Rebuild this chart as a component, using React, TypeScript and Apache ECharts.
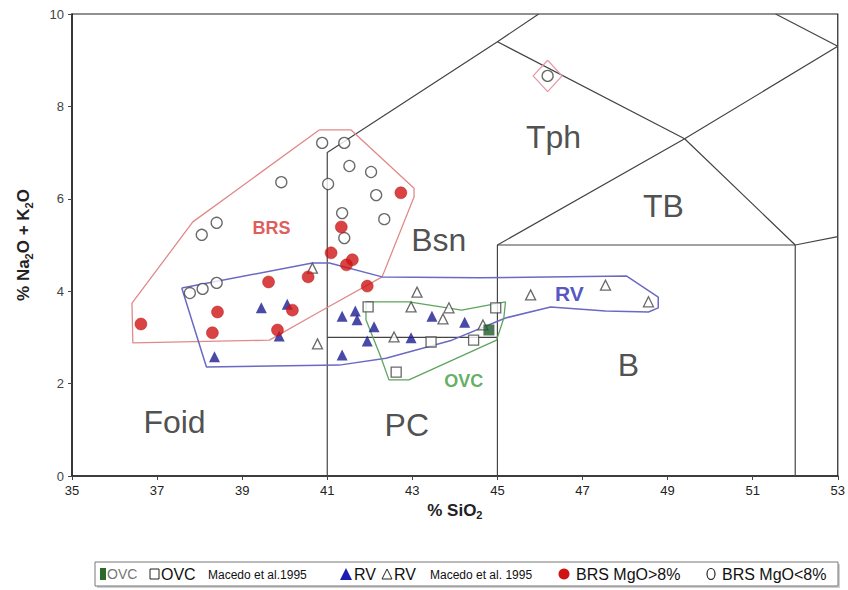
import React, { useEffect, useRef } from "react";
import * as echarts from "echarts";

// ---- axis ticks ----
const xTickValues = [35, 37, 39, 41, 43, 45, 47, 49, 51, 53];

// ---- samples: [SiO2, Na2O+K2O] ----
const ovcFilled = [[44.8, 3.16]];
const ovcMacedo = [
  [41.96, 3.66], [44.96, 3.64], [43.44, 2.9], [44.44, 2.94], [42.62, 2.25],
];
const rvFilled = [
  [39.45, 3.64], [40.06, 3.72], [39.87, 3.03], [38.35, 2.58], [41.35, 3.46],
  [41.66, 3.57], [41.7, 3.38], [42.1, 3.23], [41.94, 2.92], [41.35, 2.62],
  [42.97, 2.99], [43.46, 3.46], [44.23, 3.33],
];
const rvMacedo = [
  [40.65, 4.5], [40.77, 2.86], [43.11, 3.98], [42.97, 3.66], [43.86, 3.64],
  [43.72, 3.4], [42.57, 3.01], [44.66, 3.27], [45.78, 3.92], [47.54, 4.13],
  [48.55, 3.77],
];
const brsHigh = [
  [42.73, 6.13], [41.33, 5.39], [41.09, 4.83], [41.59, 4.68], [41.45, 4.57],
  [41.94, 4.11], [40.55, 4.31], [39.62, 4.2], [40.18, 3.59], [38.42, 3.55],
  [39.83, 3.16], [38.3, 3.1], [36.62, 3.29],
];
const brsLow = [
  [40.88, 7.21], [41.4, 7.21], [41.52, 6.71], [42.03, 6.58], [41.02, 6.32],
  [42.15, 6.08], [41.35, 5.69], [42.34, 5.56], [41.4, 5.15], [39.92, 6.36],
  [38.4, 5.48], [38.05, 5.22], [38.4, 4.18], [38.07, 4.05], [37.77, 3.96],
  [46.18, 8.66],
];

// ---- field envelopes ----
const brsEnvelope = [
  [40.81, 7.49], [41.56, 7.49], [43.04, 6.23], [43.04, 6.04], [42.29, 4.31],
  [40.81, 3.55], [39.64, 2.94], [36.43, 2.88], [36.41, 3.74], [37.84, 5.5],
  [40.81, 7.49],
];
const rvEnvelope = [
  [37.58, 4.07], [40.65, 4.61], [41.05, 4.61], [42.29, 4.31], [44.56, 4.29],
  [48.03, 4.33], [48.78, 3.87], [48.78, 3.64], [48.55, 3.55], [47.54, 3.57],
  [46.25, 3.66], [45.19, 3.42], [43.93, 2.94], [42.38, 2.55], [41.28, 2.4],
  [38.16, 2.36], [37.58, 4.07],
];
const ovcEnvelope = [
  [41.91, 3.77], [42.92, 3.77], [44.16, 3.59], [45.19, 3.77], [45.15, 3.42],
  [44.98, 2.94], [42.92, 2.08], [42.45, 2.08], [42.27, 2.55], [41.91, 3.38],
  [41.91, 3.77],
];
const brsOutlierEnvelope = [
  [46.18, 9.0], [46.52, 8.66], [46.18, 8.32], [45.84, 8.66], [46.18, 9.0],
];

// ---- TAS boundaries ----
const tasBoundaries = [
  [[41, 0], [41, 7], [45, 9.4], [45.97, 10]],
  [[45, 9.4], [49.4, 7.3], [52, 5]],
  [[45, 0], [45, 5], [52, 5], [52, 0]],
  [[45, 5], [49.4, 7.3], [53, 9.3]],
  [[51.54, 10], [53, 9.3]],
  [[52, 5], [53, 5.18]],
  [[41, 3], [45, 3]],
];

// ---- field names ----
const fieldNames = ["Tph", "TB", "Bsn", "B", "Foid", "PC"];
const fieldNameAt = [[46.32, 7.34], [48.9, 5.84], [43.62, 5.11], [48.08, 2.4], [37.41, 1.17], [42.87, 1.1]];
const groupNames = ["BRS", "RV", "OVC"];
const groupNameAt = [[39.69, 5.37], [46.69, 3.96], [44.21, 2.06]];
const groupColors = ["#d83030", "#2a2ab4", "#3a9a3a"];

const FONT = "Liberation Sans, Arial, sans-serif";

export default function App() {
  const ref = useRef<HTMLDivElement>(null);
  useEffect(() => {
    if (!ref.current) return;
    const chart = echarts.init(ref.current, undefined, { renderer: "svg" });

    const lineSeries = (data: number[][], color: string, width: number, z = 2) => ({
      type: "line",
      data,
      showSymbol: false,
      symbol: "none",
      silent: true,
      z,
      lineStyle: { color, width },
      animation: false,
    });

    const series: any[] = [];
    tasBoundaries.forEach((b) => series.push(lineSeries(b, "#444", 1.2)));
    series.push(lineSeries(brsEnvelope, "#e08a8a", 1.3, 3));
    series.push(lineSeries(brsOutlierEnvelope, "#e59aa8", 1.3, 3));
    series.push(lineSeries(rvEnvelope, "#6a6ac4", 1.5, 3));
    series.push(lineSeries(ovcEnvelope, "#5ea45e", 1.3, 3));

    series.push({
      type: "scatter", name: "BRS MgO<8%", data: brsLow, symbol: "circle", symbolSize: 11, z: 5,
      itemStyle: { color: "#ffffff", borderColor: "#444", borderWidth: 1.3 },
    });
    series.push({
      type: "scatter", name: "RV Macedo et al. 1995", data: rvMacedo, symbol: "triangle", symbolSize: 10, z: 5,
      itemStyle: { color: "#ffffff", borderColor: "#444", borderWidth: 1.3 },
    });
    series.push({
      type: "scatter", name: "OVC Macedo et al.1995", data: ovcMacedo, symbol: "rect", symbolSize: 10, z: 5,
      itemStyle: { color: "#ffffff", borderColor: "#444", borderWidth: 1.3 },
    });
    series.push({
      type: "scatter", name: "RV", data: rvFilled, symbol: "triangle", symbolSize: 11, z: 6,
      itemStyle: { color: "#1c1c92" },
    });
    series.push({
      type: "scatter", name: "OVC", data: ovcFilled, symbol: "rect", symbolSize: 11, z: 6,
      itemStyle: { color: "#1f5a28" },
    });
    series.push({
      type: "scatter", name: "BRS MgO>8%", data: brsHigh, symbol: "circle", symbolSize: 12, z: 7,
      itemStyle: { color: "#d01414", borderColor: "#b01010", borderWidth: 0.5 },
    });

    series.push({
      type: "scatter", silent: true, symbolSize: 0, z: 8,
      data: fieldNames.map((n, i) => ({ name: n, value: fieldNameAt[i] })),
      label: {
        show: true, position: "inside", formatter: "{b}",
        fontFamily: FONT, fontSize: 32, color: "#222",
      },
    });
    series.push({
      type: "scatter", silent: true, symbolSize: 0, z: 8,
      data: groupNames.map((n, i) => ({
        name: n, value: groupNameAt[i],
        label: { color: groupColors[i], fontSize: i === 1 ? 21 : 18 },
      })),
      label: {
        show: true, position: "inside", formatter: "{b}",
        fontFamily: FONT, fontWeight: "bold", fontSize: 18,
      },
    });

    const lg = 574;
    const legendGraphics: any[] = [
      { type: "rect", shape: { x: 97, y: 564, width: 743, height: 24 }, style: { fill: "#cfcfcf", stroke: "none" }, z: 99 },
      { type: "rect", shape: { x: 95, y: 562, width: 743, height: 24 }, style: { fill: "#fff", stroke: "#777", lineWidth: 1 }, z: 100 },
      { type: "rect", shape: { x: 100, y: 568, width: 6, height: 12 }, style: { fill: "#2a6a2a" }, z: 101 },
      { type: "text", x: 107, y: lg, style: { text: "OVC", font: `14px ${FONT}`, fill: "#777", verticalAlign: "middle" }, z: 101 },
      { type: "rect", shape: { x: 150, y: 569, width: 9, height: 10 }, style: { fill: "#fff", stroke: "#222", lineWidth: 1 }, z: 101 },
      { type: "text", x: 161, y: lg, style: { text: "OVC", font: `16px ${FONT}`, fill: "#111", verticalAlign: "middle" }, z: 101 },
      { type: "text", x: 208, y: lg + 1, style: { text: "Macedo et al.1995", font: `12px ${FONT}`, fill: "#111", verticalAlign: "middle" }, z: 101 },
      { type: "polygon", shape: { points: [[346, 568], [340, 580], [352, 580]] }, style: { fill: "#1c1cb0" }, z: 101 },
      { type: "text", x: 354, y: lg, style: { text: "RV", font: `16px ${FONT}`, fill: "#111", verticalAlign: "middle" }, z: 101 },
      { type: "polygon", shape: { points: [[387, 569], [382, 579], [392, 579]] }, style: { fill: "#fff", stroke: "#222", lineWidth: 1 }, z: 101 },
      { type: "text", x: 394, y: lg, style: { text: "RV", font: `16px ${FONT}`, fill: "#111", verticalAlign: "middle" }, z: 101 },
      { type: "text", x: 430, y: lg + 1, style: { text: "Macedo et al. 1995", font: `12px ${FONT}`, fill: "#111", verticalAlign: "middle" }, z: 101 },
      { type: "circle", shape: { cx: 564, cy: lg, r: 5.5 }, style: { fill: "#d01414" }, z: 101 },
      { type: "text", x: 576, y: lg, style: { text: "BRS MgO>8%", font: `16px ${FONT}`, fill: "#111", verticalAlign: "middle" }, z: 101 },
      { type: "ellipse", shape: { cx: 711, cy: lg, rx: 4, ry: 5.5 }, style: { fill: "#fff", stroke: "#222", lineWidth: 1.2 }, z: 101 },
      { type: "text", x: 722, y: lg, style: { text: "BRS MgO<8%", font: `16px ${FONT}`, fill: "#111", verticalAlign: "middle" }, z: 101 },
    ];

    chart.setOption({
      animation: false,
      backgroundColor: "#ffffff",
      grid: {
        left: 72, right: 8, top: 14, bottom: 114,
        show: true, borderColor: "#222", borderWidth: 1.2, backgroundColor: "transparent",
      },
      xAxis: {
        type: "value", min: 35, max: 53,
        name: "{a|% SiO}{s|2}",
        nameLocation: "middle", nameGap: 19,
        nameTextStyle: {
          rich: {
            a: { fontFamily: FONT, fontSize: 17, fontWeight: "bold", color: "#222" },
            s: { fontFamily: FONT, fontSize: 11, fontWeight: "bold", color: "#222", padding: [10, 0, 0, 0] },
          },
        },
        axisLine: { lineStyle: { color: "#222", width: 1.5 } },
        axisTick: { show: true, length: 4, customValues: xTickValues, lineStyle: { color: "#444" } },
        axisLabel: { customValues: xTickValues, fontFamily: FONT, fontSize: 13, color: "#222", margin: 8 },
        splitLine: { show: false },
      },
      yAxis: {
        type: "value", min: 0, max: 10, interval: 2,
        name: "{a|% Na}{s|2}{a|O + K}{s|2}{a|O}",
        nameLocation: "middle", nameGap: 38, nameRotate: 90,
        nameTextStyle: {
          rich: {
            a: { fontFamily: FONT, fontSize: 17, fontWeight: "bold", color: "#222" },
            s: { fontFamily: FONT, fontSize: 11, fontWeight: "bold", color: "#222", padding: [10, 0, 0, 0] },
          },
        },
        axisLine: { lineStyle: { color: "#222", width: 1.5 } },
        axisTick: { show: true, length: 4, lineStyle: { color: "#444" } },
        axisLabel: { fontFamily: FONT, fontSize: 13, color: "#444", margin: 8 },
        splitLine: { show: false },
      },
      series,
      graphic: legendGraphics,
    });
    return () => chart.dispose();
  }, []);
  return <div ref={ref} style={{ width: 848, height: 590, position: "absolute", left: 0, top: 0 }} />;
}
